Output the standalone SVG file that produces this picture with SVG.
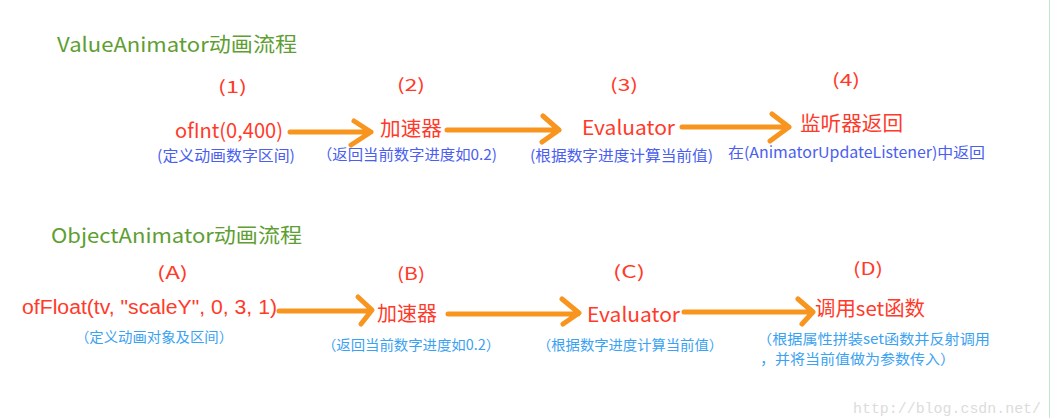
<svg xmlns="http://www.w3.org/2000/svg" width="1051" height="418" viewBox="0 0 1051 418">
<style>
text{font-family:"Noto Sans CJK SC","Liberation Sans",sans-serif}
.title{fill:#5e9e32;font-size:20px}
.num{fill:#ff3a2a;font-size:17px}
.lbl{fill:#ff3a2a;font-size:20px}
.arial{font-family:"Liberation Sans","Noto Sans CJK SC",sans-serif}
.d1{fill:#4a5ef0;font-size:15px}
.d2{fill:#3aa2f2;font-size:14px}
.arr{fill:none;stroke:#f8951f;stroke-width:5;stroke-linecap:round;stroke-linejoin:round}
.wm{fill:#dcdcdc;font-family:"Liberation Mono","DejaVu Sans Mono",monospace;font-size:15px}
</style>
<rect width="1051" height="418" fill="#ffffff"/>
<line x1="1049.5" y1="0" x2="1049.5" y2="418" stroke="#bfe9c8" stroke-width="1"/>

<g id="title1"><text class="title" x="57" y="52" textLength="240" lengthAdjust="spacingAndGlyphs">ValueAnimator动画流程</text></g>
<g id="title2"><text class="title" x="51" y="243" textLength="251" lengthAdjust="spacingAndGlyphs">ObjectAnimator动画流程</text></g>

<g id="node-1">
<text class="num" x="218" y="93" textLength="29" lengthAdjust="spacingAndGlyphs">(1)</text>
<text class="lbl" x="175" y="138" textLength="108" lengthAdjust="spacingAndGlyphs">ofInt(0,400)</text>
<text class="d1" x="157" y="161" textLength="138" lengthAdjust="spacingAndGlyphs">(定义动画数字区间)</text>
</g>
<g id="node-2">
<text class="num" x="397" y="91" textLength="28" lengthAdjust="spacingAndGlyphs">(2)</text>
<text class="lbl" x="380" y="136" textLength="62" lengthAdjust="spacingAndGlyphs">加速器</text>
<text class="d1" x="317" y="160" textLength="180" lengthAdjust="spacingAndGlyphs">（返回当前数字进度如0.2)</text>
</g>
<g id="node-3">
<text class="num" x="610" y="91" textLength="28" lengthAdjust="spacingAndGlyphs">(3)</text>
<text class="lbl" x="582" y="135" font-size="22" textLength="93" lengthAdjust="spacingAndGlyphs">Evaluator</text>
<text class="d1" x="530" y="161" textLength="183" lengthAdjust="spacingAndGlyphs">(根据数字进度计算当前值)</text>
</g>
<g id="node-4">
<text class="num" x="832" y="86" textLength="28" lengthAdjust="spacingAndGlyphs">(4)</text>
<text class="lbl" x="800" y="131" textLength="103" lengthAdjust="spacingAndGlyphs">监听器返回</text>
<text class="d1" x="728" y="158" textLength="257" lengthAdjust="spacingAndGlyphs">在(AnimatorUpdateListener)中返回</text>
</g>

<g id="node-A">
<text class="num" x="157" y="279" textLength="31" lengthAdjust="spacingAndGlyphs">(A)</text>
<text class="lbl arial" x="22" y="314" font-size="21" textLength="255" lengthAdjust="spacingAndGlyphs">ofFloat(tv, "scaleY", 0, 3, 1)</text>
<text class="d2" x="75" y="342" textLength="158" lengthAdjust="spacingAndGlyphs">（定义动画对象及区间）</text>
</g>
<g id="node-B">
<text class="num" x="397" y="280" textLength="28" lengthAdjust="spacingAndGlyphs">(B)</text>
<text class="lbl" x="377" y="321" textLength="60" lengthAdjust="spacingAndGlyphs">加速器</text>
<text class="d2" x="322" y="350" textLength="178" lengthAdjust="spacingAndGlyphs">（返回当前数字进度如0.2）</text>
</g>
<g id="node-C">
<text class="num" x="613" y="278" textLength="32" lengthAdjust="spacingAndGlyphs">(C)</text>
<text class="lbl" x="587" y="322" font-size="21" textLength="93" lengthAdjust="spacingAndGlyphs">Evaluator</text>
<text class="d2" x="537" y="350" textLength="186" lengthAdjust="spacingAndGlyphs">（根据数字进度计算当前值）</text>
</g>
<g id="node-D">
<text class="num" x="853" y="275" textLength="30" lengthAdjust="spacingAndGlyphs">(D)</text>
<text class="lbl" x="815" y="316" textLength="110" lengthAdjust="spacingAndGlyphs">调用set函数</text>
<text class="d2" x="757" y="344" font-size="13.5" textLength="233" lengthAdjust="spacingAndGlyphs">（根据属性拼装set函数并反射调用</text>
<text class="d2" x="760" y="364" font-size="13.5" textLength="195" lengthAdjust="spacingAndGlyphs">，并将当前值做为参数传入）</text>
</g>

<g id="connectors">
<path class="arr" d="M290 132 H371 M354 121 L371 132 L351 145"/>
<path class="arr" d="M447 130 H559 M543 116 L559 130 L542 142"/>
<path class="arr" d="M682 127 H789 M772 114 L789 127 L770 141"/>
<path class="arr" d="M279 311 H371 M358 297 L372 310 L361 324"/>
<path class="arr" d="M448 314 H578 M562 299 L579 313 L563 324"/>
<path class="arr" d="M684 312 H812 M798 299 L813 312 L802 324"/>
</g>

<text class="wm" x="853" y="413" textLength="188" lengthAdjust="spacingAndGlyphs">http://blog.csdn.net/</text>
</svg>
